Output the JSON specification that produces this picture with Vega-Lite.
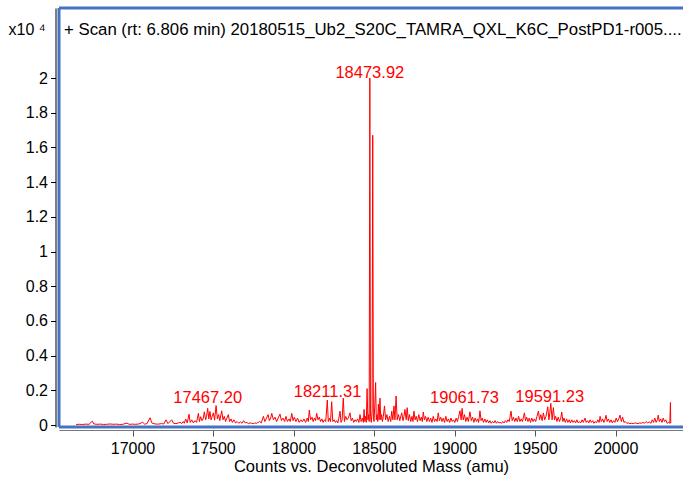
{
  "$schema": "https://vega.github.io/schema/vega-lite/v6.json",
  "width": 624,
  "height": 419,
  "autosize": {"type": "none"},
  "padding": {"left": 59, "top": 8, "right": 0, "bottom": 51},
  "background": "white",
  "config": {"view": {"stroke": null}},
  "title": {
    "text": "+ Scan (rt: 6.806 min) 20180515_Ub2_S20C_TAMRA_QXL_K6C_PostPD1-r005....",
    "anchor": "start", "frame": "group", "orient": "top",
    "baseline": "alphabetic", "offset": 0, "dx": 5, "dy": 45,
    "font": "Liberation Sans", "fontSize": 16.8, "fontWeight": "normal", "color": "#000"
  },
  "datasets": {
    "spec": [
      {"m":16650,"v":0.003},{"m":16670,"v":0.004},{"m":16690,"v":0.003},{"m":16710,"v":0.005},{"m":16730,"v":0.004},{"m":16750,"v":0.022},{"m":16760,"v":0.006},{"m":16780,"v":0.004},{"m":16800,"v":0.005},{"m":16820,"v":0.003},{"m":16840,"v":0.004},{"m":16860,"v":0.006},{"m":16880,"v":0.004},{"m":16900,"v":0.005},{"m":16920,"v":0.003},{"m":16940,"v":0.004},{"m":16964,"v":0.011},{"m":16980,"v":0.004},{"m":17000,"v":0.005},{"m":17020,"v":0.004},{"m":17040,"v":0.006},{"m":17063,"v":0.016},{"m":17075,"v":0.005},{"m":17090,"v":0.008},{"m":17109,"v":0.042},{"m":17120,"v":0.012},{"m":17140,"v":0.006},{"m":17160,"v":0.005},{"m":17180,"v":0.008},{"m":17195,"v":0.006},{"m":17208,"v":0.03},{"m":17220,"v":0.008},{"m":17243,"v":0.03},{"m":17255,"v":0.01},{"m":17270,"v":0.008},{"m":17285,"v":0.012},{"m":17295,"v":0.016},
      {"m":17305,"v":0.008},{"m":17315,"v":0.02},{"m":17322,"v":0.01},{"m":17330,"v":0.035},{"m":17340,"v":0.012},{"m":17351,"v":0.062},{"m":17358,"v":0.015},{"m":17368,"v":0.03},{"m":17378,"v":0.012},{"m":17388,"v":0.025},{"m":17398,"v":0.015},{"m":17409,"v":0.067},{"m":17416,"v":0.02},{"m":17423,"v":0.048},{"m":17432,"v":0.025},{"m":17440,"v":0.04},{"m":17446,"v":0.076},{"m":17454,"v":0.03},{"m":17460,"v":0.05},{"m":17467,"v":0.096},{"m":17474,"v":0.035},{"m":17481,"v":0.078},{"m":17488,"v":0.03},{"m":17495,"v":0.05},{"m":17502,"v":0.07},{"m":17510,"v":0.028},{"m":17519,"v":0.112},{"m":17527,"v":0.035},{"m":17535,"v":0.06},{"m":17542,"v":0.025},{"m":17554,"v":0.082},{"m":17562,"v":0.03},{"m":17570,"v":0.05},{"m":17578,"v":0.02},{"m":17586,"v":0.04},{"m":17595,"v":0.06},{"m":17603,"v":0.02},{"m":17612,"v":0.035},{"m":17620,"v":0.015},{"m":17630,"v":0.03},{"m":17640,"v":0.012},{"m":17650,"v":0.02},{"m":17660,"v":0.01},{"m":17670,"v":0.018},{"m":17680,"v":0.01},{"m":17690,"v":0.025},{"m":17700,"v":0.012},{"m":17710,"v":0.015},{"m":17720,"v":0.008},{"m":17730,"v":0.012},{"m":17740,"v":0.01},{"m":17750,"v":0.008},{"m":17760,"v":0.012},{"m":17770,"v":0.01},{"m":17780,"v":0.015},{"m":17790,"v":0.02},{"m":17800,"v":0.012},{"m":17813,"v":0.05},{"m":17822,"v":0.02},{"m":17830,"v":0.035},{"m":17842,"v":0.06},{"m":17850,"v":0.025},{"m":17858,"v":0.04},{"m":17865,"v":0.067},{"m":17875,"v":0.03},{"m":17885,"v":0.045},{"m":17895,"v":0.02},
      {"m":17905,"v":0.04},{"m":17916,"v":0.063},{"m":17925,"v":0.025},{"m":17935,"v":0.04},{"m":17945,"v":0.02},{"m":17953,"v":0.05},{"m":17962,"v":0.02},{"m":17972,"v":0.035},{"m":17980,"v":0.02},{"m":17989,"v":0.067},{"m":17997,"v":0.025},{"m":18005,"v":0.045},{"m":18015,"v":0.02},{"m":18025,"v":0.04},{"m":18035,"v":0.015},{"m":18045,"v":0.03},{"m":18055,"v":0.018},{"m":18065,"v":0.035},{"m":18075,"v":0.015},{"m":18085,"v":0.04},{"m":18092,"v":0.02},{"m":18098,"v":0.086},{"m":18106,"v":0.03},{"m":18115,"v":0.045},{"m":18122,"v":0.02},{"m":18130,"v":0.04},{"m":18137,"v":0.025},{"m":18144,"v":0.067},{"m":18152,"v":0.03},{"m":18160,"v":0.045},{"m":18168,"v":0.02},{"m":18176,"v":0.035},{"m":18184,"v":0.015},{"m":18192,"v":0.03},{"m":18200,"v":0.02},{"m":18210,"v":0.144},{"m":18216,"v":0.02},{"m":18224,"v":0.04},{"m":18230,"v":0.02},{"m":18237,"v":0.134},{"m":18244,"v":0.02},{"m":18252,"v":0.03},{"m":18260,"v":0.015},{"m":18268,"v":0.025},{"m":18275,"v":0.012},{"m":18282,"v":0.04},{"m":18289,"v":0.08},{"m":18295,"v":0.015},{"m":18302,"v":0.03},{"m":18309,"v":0.155},{"m":18316,"v":0.02},{"m":18324,"v":0.05},{"m":18332,"v":0.03},{"m":18340,"v":0.04},{"m":18351,"v":0.07},{"m":18358,"v":0.025},{"m":18366,"v":0.04},{"m":18374,"v":0.015},{"m":18382,"v":0.03},{"m":18390,"v":0.02},{"m":18398,"v":0.035},{"m":18406,"v":0.015},{"m":18413,"v":0.06},{"m":18420,"v":0.02},
      {"m":18428,"v":0.04},{"m":18434,"v":0.015},{"m":18438,"v":0.09},{"m":18443,"v":0.02},{"m":18448,"v":0.05},{"m":18452,"v":0.015},{"m":18457,"v":0.21},{"m":18462,"v":0.03},{"m":18466,"v":0.06},{"m":18470,"v":0.02},{"m":18474,"v":2.0},{"m":18478,"v":0.05},{"m":18483,"v":0.015},{"m":18488,"v":0.08},{"m":18492,"v":1.67},{"m":18496,"v":0.04},{"m":18500,"v":0.02},{"m":18505,"v":0.12},{"m":18510,"v":0.245},{"m":18514,"v":0.03},{"m":18519,"v":0.06},{"m":18523,"v":0.02},{"m":18527,"v":0.12},{"m":18532,"v":0.03},{"m":18537,"v":0.155},{"m":18542,"v":0.03},{"m":18547,"v":0.06},{"m":18552,"v":0.02},{"m":18558,"v":0.05},
      {"m":18565,"v":0.11},{"m":18572,"v":0.03},{"m":18580,"v":0.06},{"m":18588,"v":0.02},{"m":18596,"v":0.05},{"m":18604,"v":0.02},{"m":18610,"v":0.08},{"m":18617,"v":0.03},{"m":18624,"v":0.11},{"m":18630,"v":0.03},{"m":18637,"v":0.167},{"m":18644,"v":0.03},{"m":18652,"v":0.06},{"m":18660,"v":0.025},{"m":18672,"v":0.07},{"m":18680,"v":0.025},{"m":18686,"v":0.05},{"m":18692,"v":0.09},{"m":18700,"v":0.03},{"m":18706,"v":0.1},{"m":18713,"v":0.025},{"m":18720,"v":0.06},{"m":18728,"v":0.02},{"m":18736,"v":0.05},{"m":18742,"v":0.02},{"m":18748,"v":0.08},{"m":18755,"v":0.03},{"m":18762,"v":0.05},{"m":18770,"v":0.02},{"m":18778,"v":0.06},{"m":18786,"v":0.025},{"m":18794,"v":0.045},{"m":18800,"v":0.02},{"m":18806,"v":0.075},{"m":18813,"v":0.03},{"m":18820,"v":0.05},{"m":18828,"v":0.02},{"m":18836,"v":0.045},{"m":18844,"v":0.02},{"m":18852,"v":0.04},{"m":18860,"v":0.015},{"m":18868,"v":0.05},{"m":18876,"v":0.02},{"m":18884,"v":0.035},{"m":18892,"v":0.02},{"m":18899,"v":0.07},{"m":18906,"v":0.025},{"m":18914,"v":0.045},{"m":18922,"v":0.02},{"m":18930,"v":0.04},{"m":18938,"v":0.015},{"m":18946,"v":0.05},{"m":18954,"v":0.02},{"m":18962,"v":0.035},{"m":18970,"v":0.015},{"m":18978,"v":0.04},{"m":18986,"v":0.02},{"m":18994,"v":0.03},{"m":19002,"v":0.015},{"m":19010,"v":0.04},{"m":19018,"v":0.02},{"m":19026,"v":0.05},{"m":19034,"v":0.082},{"m":19041,"v":0.03},{"m":19047,"v":0.096},{"m":19054,"v":0.03},{"m":19062,"v":0.06},{"m":19070,"v":0.02},{"m":19078,"v":0.045},{"m":19086,"v":0.02},{"m":19096,"v":0.076},{"m":19104,"v":0.025},{"m":19112,"v":0.045},{"m":19120,"v":0.015},{"m":19128,"v":0.04},{"m":19136,"v":0.02},{"m":19144,"v":0.035},{"m":19150,"v":0.015},{"m":19158,"v":0.082},{"m":19165,"v":0.025},{"m":19172,"v":0.04},{"m":19180,"v":0.015},{"m":19188,"v":0.035},{"m":19196,"v":0.015},{"m":19204,"v":0.03},{"m":19212,"v":0.012},{"m":19220,"v":0.025},{"m":19228,"v":0.01},{"m":19236,"v":0.02},{"m":19244,"v":0.012},{"m":19252,"v":0.025},{"m":19260,"v":0.01},{"m":19268,"v":0.02},{"m":19276,"v":0.012},{"m":19284,"v":0.015},{"m":19292,"v":0.01},{"m":19300,"v":0.02},{"m":19308,"v":0.012},{"m":19316,"v":0.025},{"m":19324,"v":0.015},{"m":19332,"v":0.03},{"m":19340,"v":0.02},{"m":19351,"v":0.08},{"m":19358,"v":0.025},{"m":19366,"v":0.045},{"m":19374,"v":0.02},{"m":19382,"v":0.04},{"m":19390,"v":0.02},{"m":19398,"v":0.05},{"m":19406,"v":0.02},{"m":19414,"v":0.035},{"m":19422,"v":0.02},{"m":19434,"v":0.07},{"m":19441,"v":0.025},{"m":19448,"v":0.045},{"m":19456,"v":0.02},{"m":19464,"v":0.04},{"m":19472,"v":0.015},{"m":19480,"v":0.04},{"m":19488,"v":0.02},{"m":19496,"v":0.035},{"m":19504,"v":0.02},{"m":19512,"v":0.05},{"m":19521,"v":0.08},{"m":19528,"v":0.03},{"m":19536,"v":0.06},{"m":19544,"v":0.025},{"m":19552,"v":0.07},{"m":19560,"v":0.03},{"m":19568,"v":0.05},{"m":19579,"v":0.105},{"m":19586,"v":0.03},{"m":19592,"v":0.07},{"m":19598,"v":0.125},{"m":19606,"v":0.03},{"m":19614,"v":0.1},{"m":19621,"v":0.03},{"m":19628,"v":0.05},{"m":19636,"v":0.02},{"m":19644,"v":0.045},{"m":19652,"v":0.02},{"m":19660,"v":0.04},{"m":19666,"v":0.075},{"m":19673,"v":0.02},{"m":19680,"v":0.04},{"m":19688,"v":0.015},{"m":19696,"v":0.035},{"m":19704,"v":0.015},{"m":19712,"v":0.03},{"m":19720,"v":0.012},{"m":19728,"v":0.03},{"m":19736,"v":0.015},{"m":19744,"v":0.025},{"m":19752,"v":0.012},{"m":19760,"v":0.03},{"m":19768,"v":0.012},{"m":19776,"v":0.02},{"m":19784,"v":0.012},{"m":19792,"v":0.03},
      {"m":19800,"v":0.015},{"m":19810,"v":0.04},{"m":19818,"v":0.015},{"m":19826,"v":0.025},{"m":19834,"v":0.012},{"m":19842,"v":0.03},{"m":19850,"v":0.015},{"m":19858,"v":0.025},{"m":19866,"v":0.01},{"m":19874,"v":0.02},{"m":19882,"v":0.012},{"m":19890,"v":0.03},{"m":19898,"v":0.015},{"m":19904,"v":0.05},{"m":19912,"v":0.02},{"m":19920,"v":0.035},{"m":19928,"v":0.015},{"m":19934,"v":0.03},{"m":19941,"v":0.056},{"m":19948,"v":0.02},{"m":19956,"v":0.035},{"m":19964,"v":0.015},{"m":19972,"v":0.03},{"m":19980,"v":0.012},{"m":19988,"v":0.025},{"m":19996,"v":0.015},{"m":20004,"v":0.04},{"m":20012,"v":0.02},{"m":20020,"v":0.035},{"m":20028,"v":0.057},{"m":20036,"v":0.02},{"m":20044,"v":0.045},{"m":20052,"v":0.015},{"m":20060,"v":0.02},{"m":20070,"v":0.01},{"m":20080,"v":0.012},{"m":20090,"v":0.008},{"m":20100,"v":0.01},{"m":20110,"v":0.008},{"m":20120,"v":0.012},{"m":20130,"v":0.01},{"m":20140,"v":0.008},{"m":20150,"v":0.012},{"m":20160,"v":0.01},{"m":20170,"v":0.015},{"m":20180,"v":0.01},{"m":20190,"v":0.02},{"m":20200,"v":0.012},{"m":20210,"v":0.018},{"m":20220,"v":0.01},{"m":20228,"v":0.03},{"m":20236,"v":0.015},{"m":20244,"v":0.04},{"m":20252,"v":0.015},{"m":20260,"v":0.03},{"m":20265,"v":0.057},{"m":20272,"v":0.02},{"m":20280,"v":0.035},{"m":20288,"v":0.015},{"m":20296,"v":0.04},{"m":20304,"v":0.02},{"m":20312,"v":0.03},{"m":20320,"v":0.01},{"m":20330,"v":0.015},{"m":20337,"v":0.01},{"m":20341,"v":0.13},{"m":20343,"v":0.01}
    ],
    "labels": [
      {"m":18473.92,"v":2.0,"label":"18473.92"},
      {"m":17467.20,"v":0.127,"label":"17467.20"},
      {"m":18211.31,"v":0.161,"label":"18211.31"},
      {"m":19061.73,"v":0.127,"label":"19061.73"},
      {"m":19591.23,"v":0.133,"label":"19591.23"}
    ],
    "one": [{}]
  },
  "layer": [
    {
      "data": {"name": "spec"},
      "mark": {"type": "line", "color": "#ff0000", "strokeWidth": 1, "interpolate": "linear"},
      "encoding": {
        "x": {
          "field": "m", "type": "quantitative",
          "scale": {"domain": [16543.5, 20419], "nice": false, "zero": false},
          "axis": {
            "values": [17000, 17500, 18000, 18500, 19000, 19500, 20000],
            "format": "d", "labelFont": "Liberation Sans", "labelFontSize": 16, "labelColor": "#000",
            "labelPadding": 4, "labelOverlap": false, "labelFlush": false,
            "tickSize": 6, "tickColor": "#555", "domainColor": "#777", "domainWidth": 1,
            "offset": 3, "grid": false,
            "title": "Counts vs. Deconvoluted Mass (amu)",
            "titleFont": "Liberation Sans", "titleFontSize": 16.5, "titleFontWeight": "normal",
            "titleColor": "#000", "titlePadding": 2
          }
        },
        "y": {
          "field": "v", "type": "quantitative",
          "scale": {"domain": [-0.0115, 2.4035], "nice": false, "zero": false},
          "axis": {
            "values": [0, 0.2, 0.4, 0.6, 0.8, 1, 1.2, 1.4, 1.6, 1.8, 2],
            "format": ".1~f", "labelFont": "Liberation Sans", "labelFontSize": 16, "labelColor": "#000",
            "labelPadding": 3, "tickSize": 5, "tickColor": "#000", "domainColor": "#000",
            "offset": 3.5, "grid": false,
            "title": "x10 ⁴", "titleAngle": 0, "titleAlign": "left", "titleBaseline": "alphabetic",
            "titleX": -47.5, "titleY": 26.3,
            "titleFont": "Liberation Sans", "titleFontSize": 16, "titleFontWeight": "normal", "titleColor": "#000"
          }
        }
      }
    },
    {
      "data": {"name": "labels"},
      "mark": {"type": "text", "color": "#ff0000", "font": "Liberation Sans", "fontSize": 16.5, "align": "center", "baseline": "alphabetic"},
      "encoding": {
        "x": {"field": "m", "type": "quantitative"},
        "y": {"field": "v", "type": "quantitative"},
        "text": {"field": "label"}
      }
    },
    {
      "data": {"name": "one"},
      "mark": {"type": "rule", "color": "#4472c4", "strokeWidth": 3},
      "encoding": {"x": {"datum": 16543.5, "type": "quantitative"}}
    },
    {
      "data": {"name": "one"},
      "mark": {"type": "rule", "color": "#4472c4", "strokeWidth": 3},
      "encoding": {"y": {"datum": 2.4035, "type": "quantitative"}}
    },
    {
      "data": {"name": "one"},
      "mark": {"type": "rule", "color": "#4472c4", "strokeWidth": 3},
      "encoding": {"y": {"datum": -0.0115, "type": "quantitative"}}
    }
  ]
}
